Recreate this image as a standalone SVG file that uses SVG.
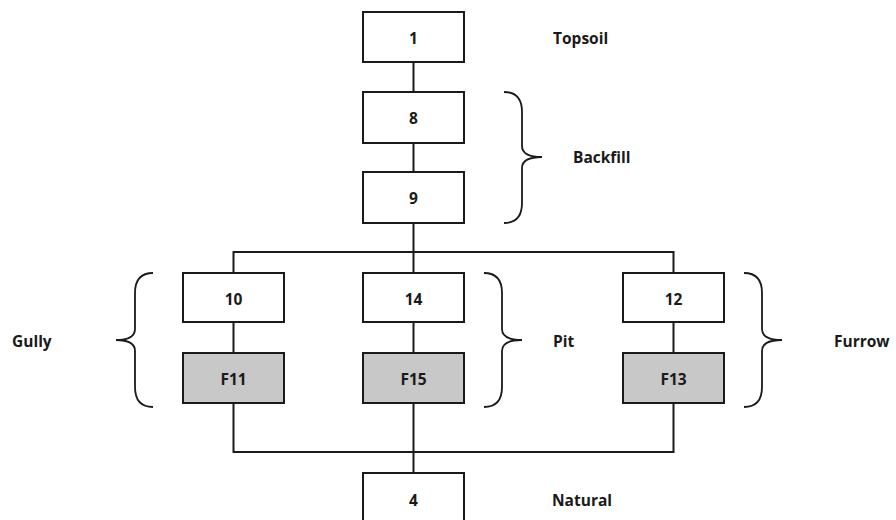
<svg xmlns="http://www.w3.org/2000/svg" width="896" height="520" viewBox="0 0 896 520">
<style>
.box{fill:#fff;stroke:#1a1a1a;stroke-width:2}
.fea{fill:#c8c8c8;stroke:#1a1a1a;stroke-width:2}
.ln{fill:none;stroke:#1a1a1a;stroke-width:2}
.br{fill:none;stroke:#1a1a1a;stroke-width:1.8}
text{font-family:"Open Sans","Noto Sans",sans-serif;font-weight:700;font-size:15.5px;fill:#1a1a1a;dominant-baseline:central}
.c{text-anchor:middle}
</style>
<rect width="896" height="520" fill="#fff"/>
<g id="connectors">
<path class="ln" d="M413.5 62V92M413.5 143V172M413.5 223V273M233.5 273V252H673.5V273M233.5 322V353M413.5 322V353M673.5 322V353M233.5 403V452H673.5V403M413.5 403V473"/>
</g>
<g id="n1"><rect class="box" x="363" y="12" width="101" height="50"/><text class="c" x="413.5" y="38">1</text></g>
<g id="n8"><rect class="box" x="363" y="92" width="101" height="51"/><text class="c" x="413.5" y="118">8</text></g>
<g id="n9"><rect class="box" x="363" y="172" width="101" height="51"/><text class="c" x="413.5" y="198">9</text></g>
<g id="n10"><rect class="box" x="183" y="273" width="101" height="49"/><text class="c" x="233.5" y="299">10</text></g>
<g id="n14"><rect class="box" x="363" y="273" width="101" height="49"/><text class="c" x="413.5" y="299">14</text></g>
<g id="n12"><rect class="box" x="623" y="273" width="101" height="49"/><text class="c" x="673.5" y="299">12</text></g>
<g id="nF11"><rect class="fea" x="183" y="353" width="101" height="50"/><text class="c" x="233.5" y="379">F11</text></g>
<g id="nF15"><rect class="fea" x="363" y="353" width="101" height="50"/><text class="c" x="413.5" y="379">F15</text></g>
<g id="nF13"><rect class="fea" x="623" y="353" width="101" height="50"/><text class="c" x="673.5" y="379">F13</text></g>
<g id="n4"><rect class="box" x="363" y="473" width="101" height="52"/><text class="c" x="413.5" y="500">4</text></g>
<g id="braces">
<path class="br" d="M504 92Q522 92 522 112V146Q522 157 542 157Q522 157 522 168V203Q522 223 504 223"/>
<path class="br" d="M484 273Q502 273 502 293V329Q502 340 522 340Q502 340 502 351V387Q502 407 484 407"/>
<path class="br" d="M744 273Q762 273 762 293V329Q762 340 782 340Q762 340 762 351V387Q762 407 744 407"/>
<path class="br" d="M153 273Q135 273 135 293V329Q135 340 116 340Q135 340 135 351V387Q135 407 153 407"/>
</g>
<g id="labels">
<text x="553" y="38">Topsoil</text>
<text x="573" y="157">Backfill</text>
<text x="12" y="341">Gully</text>
<text x="553" y="341">Pit</text>
<text x="834" y="341">Furrow</text>
<text x="552" y="500">Natural</text>
</g>
</svg>
